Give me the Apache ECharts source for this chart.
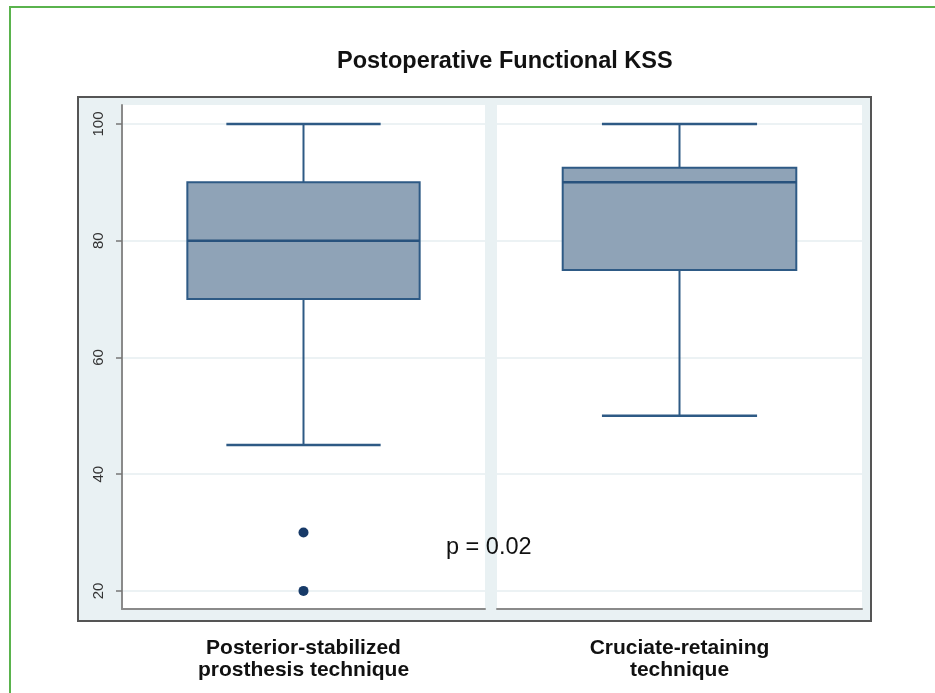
<!DOCTYPE html>
<html>
<head>
<meta charset="utf-8">
<script src="https://cdn.jsdelivr.net/npm/echarts@6/dist/echarts.min.js"></script>
<style>
html,body{margin:0;padding:0;background:#fff;}
#chart{width:935px;height:693px;}
</style>
</head>
<body>
<div id="chart"></div>
<script>
// ---- data ----
var categories = ['Posterior-stabilized\nprosthesis technique', 'Cruciate-retaining\ntechnique'];
// [min whisker, Q1, median, Q3, max whisker]
var boxPS = [45, 70, 80, 90, 100];
var boxCR = [50, 75, 90, 92.5, 100];
var outliersPS = [30, 20];
var yTicks = [20, 40, 60, 80, 100];
var titleText = 'Postoperative Functional KSS';
var pText = 'p = 0.02';

var chart = echarts.init(document.getElementById('chart'), null, {renderer: 'canvas'});

var fontFam = '"Liberation Sans", Arial, Helvetica, sans-serif';
var lineCol = '#2e5a85';
var fillCol = '#8fa3b7';

function boxRender(params, api) {
  var x = api.value(0);
  var lo = api.coord([x, api.value(1)]);
  var q1 = api.coord([x, api.value(2)]);
  var med = api.coord([x, api.value(3)]);
  var q3 = api.coord([x, api.value(4)]);
  var hi = api.coord([x, api.value(5)]);
  var band = api.size([1, 0])[0];
  var bw = band * 0.64;
  var cw = band * 0.425;
  var cx = lo[0];
  var ls = {stroke: lineCol, lineWidth: 2};
  return {
    type: 'group',
    children: [
      {type: 'line', shape: {x1: cx, y1: hi[1], x2: cx, y2: q3[1]}, style: ls},
      {type: 'line', shape: {x1: cx, y1: q1[1], x2: cx, y2: lo[1]}, style: ls},
      {type: 'line', shape: {x1: cx - cw / 2, y1: hi[1], x2: cx + cw / 2, y2: hi[1]}, style: {stroke: lineCol, lineWidth: 2.5}},
      {type: 'line', shape: {x1: cx - cw / 2, y1: lo[1], x2: cx + cw / 2, y2: lo[1]}, style: {stroke: lineCol, lineWidth: 2.5}},
      {type: 'rect', shape: {x: cx - bw / 2, y: q3[1], width: bw, height: q1[1] - q3[1]}, style: {fill: fillCol, stroke: lineCol, lineWidth: 2}},
      {type: 'line', shape: {x1: cx - bw / 2, y1: med[1], x2: cx + bw / 2, y2: med[1]}, style: {stroke: '#28527d', lineWidth: 2.5}}
    ]
  };
}

function yAxisCfg(idx, showAxis) {
  return {
    type: 'value',
    gridIndex: idx,
    min: 16.9,
    max: 103.25,
    axisLine: {show: showAxis, lineStyle: {color: '#8a8a8a', width: 2}},
    axisTick: {show: showAxis, length: 6, lineStyle: {color: '#777', width: 1.5}, customValues: yTicks},
    axisLabel: {show: showAxis, rotate: 90, fontSize: 15, color: '#333', fontFamily: fontFam, margin: 16, customValues: yTicks},
    splitLine: {show: true, lineStyle: {color: '#e6eef1', width: 1.5}}
  };
}

function xAxisCfg(idx) {
  return {
    type: 'category',
    gridIndex: idx,
    data: [categories[idx]],
    axisLine: {show: true, lineStyle: {color: '#8a8a8a', width: 2}},
    axisTick: {show: false},
    axisLabel: {fontSize: 21, fontWeight: 'bold', color: '#111', fontFamily: fontFam, margin: 28, lineHeight: 22},
    splitLine: {show: false}
  };
}

var option = {
  animation: false,
  backgroundColor: '#ffffff',
  title: {
    text: titleText,
    left: 332,
    top: 45,
    textStyle: {fontSize: 23.5, fontWeight: 'bold', color: '#111', fontFamily: fontFam}
  },
  graphic: [
    {type: 'rect', z: -30, silent: true, shape: {x: 10, y: 7, width: 940, height: 700}, style: {fill: 'none', stroke: '#5ab34d', lineWidth: 2}},
    {type: 'rect', z: -20, silent: true, shape: {x: 78, y: 97, width: 793, height: 524}, style: {fill: '#e9f1f3', stroke: '#555', lineWidth: 2}},
    {type: 'text', z: 50, silent: true, x: 446, y: 548, style: {text: pText, fontSize: 23.5, fill: '#111', fontFamily: fontFam, textVerticalAlign: 'middle', verticalAlign: 'middle'}}
  ],
  grid: [
    {left: 122, top: 105, width: 363, height: 504, show: true, backgroundColor: '#ffffff', borderWidth: 0},
    {left: 497, top: 105, width: 365, height: 504, show: true, backgroundColor: '#ffffff', borderWidth: 0}
  ],
  xAxis: [xAxisCfg(0), xAxisCfg(1)],
  yAxis: [yAxisCfg(0, true), yAxisCfg(1, false)],
  series: [
    {
      type: 'custom', xAxisIndex: 0, yAxisIndex: 0,
      renderItem: boxRender,
      encode: {x: 0, y: [1, 2, 3, 4, 5]},
      data: [[0].concat(boxPS)]
    },
    {
      type: 'custom', xAxisIndex: 1, yAxisIndex: 1,
      renderItem: boxRender,
      encode: {x: 0, y: [1, 2, 3, 4, 5]},
      data: [[0].concat(boxCR)]
    },
    {
      type: 'scatter', xAxisIndex: 0, yAxisIndex: 0,
      symbol: 'circle', symbolSize: 10,
      itemStyle: {color: '#173a68', opacity: 1},
      data: outliersPS.map(function (v) { return [0, v]; })
    }
  ]
};
chart.setOption(option);
</script>
</body>
</html>
